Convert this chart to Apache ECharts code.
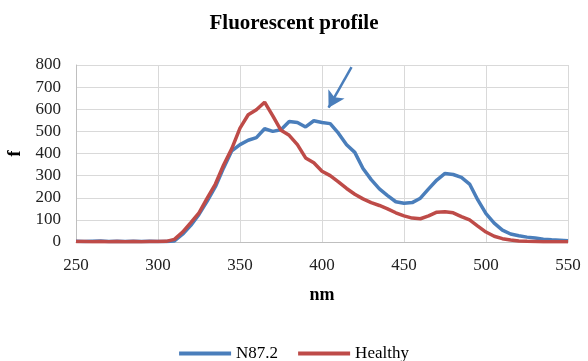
<!DOCTYPE html>
<html>
<head>
<meta charset="utf-8">
<script src="https://cdn.jsdelivr.net/npm/echarts@6/dist/echarts.min.js"></script>
<style>html,body{margin:0;padding:0;background:#fff}#c{width:588px;height:361px}</style>
</head>
<body>
<div id="c"></div>
<script>
const wavelengths = [250,255,260,265,270,275,280,285,290,295,300,305,310,315,320,325,330,335,340,345,350,355,360,365,370,375,380,385,390,395,400,405,410,415,420,425,430,435,440,445,450,455,460,465,470,475,480,485,490,495,500,505,510,515,520,525,530,535,540,545,550];
const n872 = [3,2,3,4,2,3,2,3,2,3,2,2,5,35,75,125,185,250,335,412,440,460,472,512,500,507,545,540,520,548,540,535,492,440,405,332,282,240,210,182,175,178,198,240,280,310,305,292,262,190,128,85,54,36,28,22,18,13,10,8,6];
const healthy = [2,2,1,2,1,2,1,2,1,2,2,3,12,45,88,132,198,262,348,422,515,575,598,632,570,505,482,440,380,358,320,300,272,242,216,195,178,165,150,132,118,108,105,118,135,137,132,115,100,72,45,26,15,9,5,3,2,1,1,1,1];
const xTicks = {min:250, max:550, step:50};
const yTicks = {min:0, max:800, step:100};
const arrowFrom = [418, 790];
const arrowTo = [404, 607];

const serif = '"Liberation Serif","Times New Roman",serif';
const blue = '#4a7ebb', red = '#be4b48';
const chart = echarts.init(document.getElementById('c'));
chart.setOption({
  animation:false,
  title:{text:'Fluorescent profile', left:'center', top:8,
    textStyle:{fontFamily:serif, fontWeight:'bold', fontSize:21, color:'#000'}},
  legend:{top:340, left:'center', itemWidth:52, itemHeight:4, itemGap:20,
    icon:'rect',
    textStyle:{fontFamily:serif, fontSize:17, color:'#000'},
    data:['N87.2','Healthy']},
  grid:{left:76, right:20, top:65, bottom:119, containLabel:false, outerBoundsMode:'none'},
  xAxis:{type:'value', min:xTicks.min, max:xTicks.max, interval:xTicks.step,
    name:'nm', nameLocation:'middle', nameGap:44,
    nameTextStyle:{fontFamily:serif, fontWeight:'bold', fontSize:18, color:'#000'},
    axisLine:{lineStyle:{color:'#bfbfbf'}}, axisTick:{show:false},
    axisLabel:{fontFamily:serif, fontSize:17, color:'#222', margin:15},
    splitLine:{show:true, lineStyle:{color:'#d9d9d9'}}},
  yAxis:{type:'value', min:yTicks.min, max:yTicks.max, interval:yTicks.step,
    name:'f', nameLocation:'middle', nameGap:52, nameRotate:90,
    nameTextStyle:{fontFamily:serif, fontWeight:'bold', fontSize:18, color:'#000'},
    axisLine:{show:true, lineStyle:{color:'#bfbfbf'}}, axisTick:{show:false},
    axisLabel:{fontFamily:serif, fontSize:17, color:'#222', margin:15},
    splitLine:{lineStyle:{color:'#d9d9d9'}}},
  series:[
    {name:'N87.2', type:'line', showSymbol:false, z:2,
     lineStyle:{color:blue, width:3.5}, itemStyle:{color:blue},
     data:wavelengths.map((w,i)=>[w,n872[i]]),
     markLine:{silent:true, symbol:['none','arrow'], symbolSize:[14,16],
       label:{show:false}, lineStyle:{color:blue, width:2.5, type:'solid'},
       data:[[{coord:arrowFrom},{coord:arrowTo}]]}},
    {name:'Healthy', type:'line', showSymbol:false, z:3,
     lineStyle:{color:red, width:3.5}, itemStyle:{color:red},
     data:wavelengths.map((w,i)=>[w,healthy[i]])}
  ]
});
</script>
</body>
</html>
